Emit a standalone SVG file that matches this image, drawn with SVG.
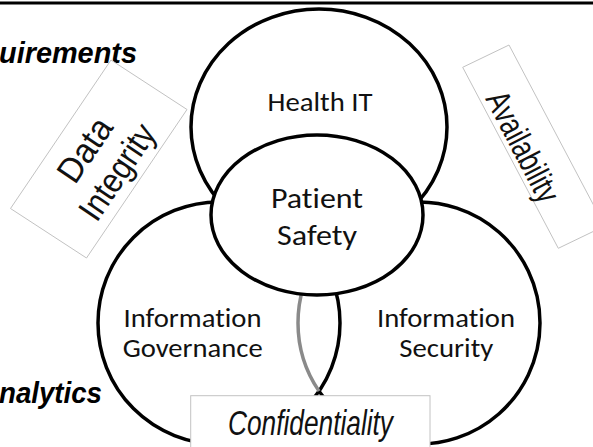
<svg xmlns="http://www.w3.org/2000/svg" width="593" height="447" viewBox="0 0 593 447">
  <style>
    .ring{fill:none;stroke:#000;stroke-width:3.5}
    .disc{fill:#fff;stroke:#000;stroke-width:3.5}
    .lens{fill:none;stroke:#8a8a8a;stroke-width:3.5}
    .lbl{font-family:Carlito,"Open Sans","Liberation Sans",Arial,sans-serif;font-size:26px;fill:#111;text-anchor:middle;font-variant-ligatures:none}
    .tag{fill:#fff;stroke:#c2c2c2;stroke-width:1}
    .tagtxt{font-family:"Liberation Sans",Arial,sans-serif;fill:#111;text-anchor:middle}
    .side{font-family:"Liberation Sans",Arial,sans-serif;font-weight:bold;font-style:italic;font-size:29px;fill:#000}
  </style>
  <rect width="593" height="447" fill="#fff"/>
  <line x1="0" y1="3" x2="593" y2="3" stroke="#000" stroke-width="2.8"/>

  <!-- cropped side headings -->
  <text class="side" x="-1" y="63" textLength="138" lengthAdjust="spacingAndGlyphs">uirements</text>
  <text class="side" x="-1" y="403" textLength="103" lengthAdjust="spacingAndGlyphs">nalytics</text>

  <g id="governance">
    <circle class="ring" cx="219" cy="323" r="121"/>
  </g>
  <g id="security">
    <path class="ring" d="M319,391.12 A121,121 0 1 0 319,254.88"/>
    <path class="lens" d="M319,254.88 A121,121 0 0 0 319,391.12"/>
  </g>
  <g id="health-it">
    <ellipse class="disc" cx="319" cy="127" rx="128" ry="118"/>
    <text class="lbl" x="320" y="111" textLength="105" lengthAdjust="spacingAndGlyphs">Health IT</text>
  </g>
  <g id="patient-safety">
    <ellipse class="disc" cx="317" cy="215" rx="106" ry="80"/>
    <text class="lbl" x="317" y="207.5" style="font-size:29px" textLength="92" lengthAdjust="spacingAndGlyphs">Patient</text>
    <text class="lbl" x="317" y="245" style="font-size:29px" textLength="80" lengthAdjust="spacingAndGlyphs">Safety</text>
  </g>
  <g id="governance-label">
    <text class="lbl" x="192.5" y="326.7" textLength="138" lengthAdjust="spacingAndGlyphs">Information</text>
    <text class="lbl" x="192.7" y="356.7" textLength="140" lengthAdjust="spacingAndGlyphs">Governance</text>
  </g>
  <g id="security-label">
    <text class="lbl" x="446" y="326.7" textLength="138" lengthAdjust="spacingAndGlyphs">Information</text>
    <text class="lbl" x="446.3" y="356.7" textLength="94" lengthAdjust="spacingAndGlyphs">Security</text>
  </g>

  <g id="confidentiality">
    <rect class="tag" x="190.7" y="395.7" width="239.3" height="60"/>
    <text class="tagtxt" x="310.5" y="435" style="font-size:35px;font-style:italic" textLength="165" lengthAdjust="spacingAndGlyphs">Confidentiality</text>
  </g>
  <g id="data-integrity">
    <polygon class="tag" points="111,60 187,109.5 86.5,258 10.5,208.5"/>
    <g transform="translate(100.5,160.5) rotate(-56)">
      <text class="tagtxt" x="0" y="-7" style="font-size:35px" textLength="70" lengthAdjust="spacingAndGlyphs">Data</text>
      <text class="tagtxt" x="0" y="32" style="font-size:35px" textLength="108" lengthAdjust="spacingAndGlyphs">Integrity</text>
    </g>
  </g>
  <g id="availability">
    <polygon class="tag" points="462.7,67.3 509,45 604.6,226 558.3,248.3"/>
    <g transform="translate(523.4,146.5) rotate(62.5)">
      <text class="tagtxt" x="0" y="12" style="font-size:34px" textLength="120" lengthAdjust="spacingAndGlyphs">Availability</text>
    </g>
  </g>
  <g id="connectors"/>
</svg>
